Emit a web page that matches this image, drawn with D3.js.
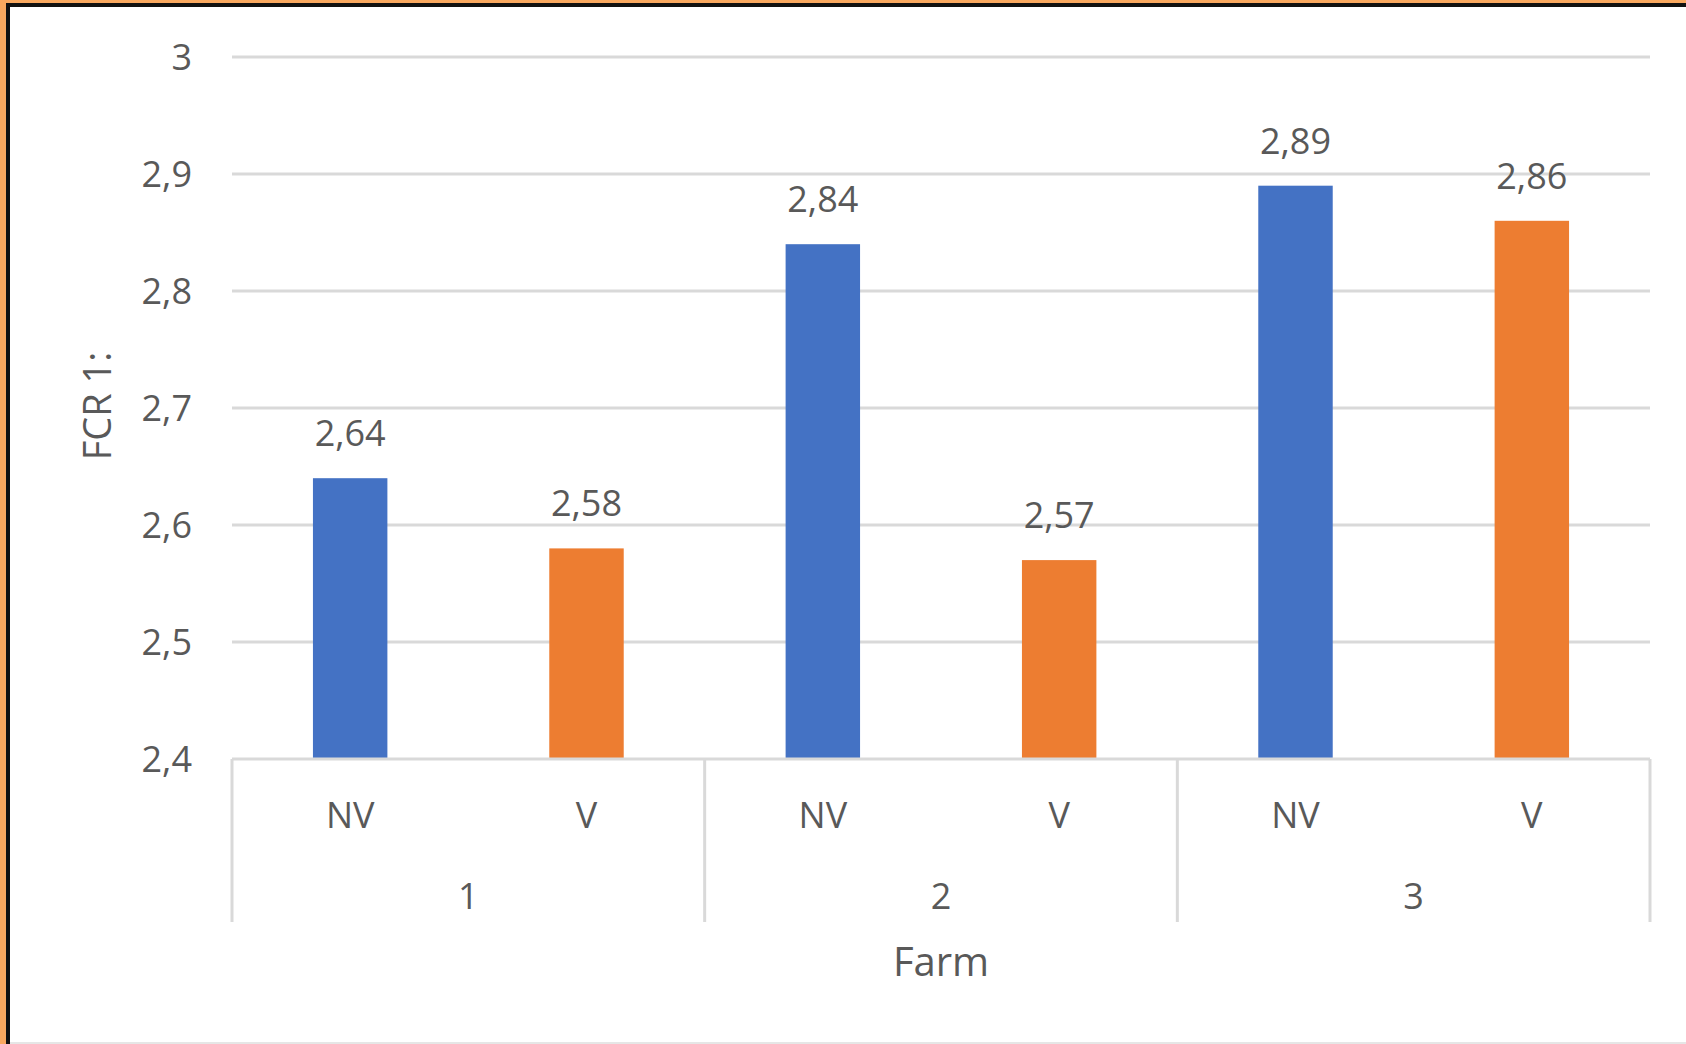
<!DOCTYPE html>
<html>
<head>
<meta charset="utf-8">
<script src="https://cdnjs.cloudflare.com/ajax/libs/d3/7.8.5/d3.min.js"></script>
<style>
  body { margin: 0; background: #fff; }
  text { font-family: "Open Sans", sans-serif; fill: #595959; }
</style>
</head>
<body>
<div id="chart"></div>
<script>
// Data
var farms = ["1", "2", "3"];
var groups = ["NV", "V"];
var nvValues = [2.64, 2.84, 2.89];
var vValues = [2.58, 2.57, 2.86];
var yTicks = [2.4, 2.5, 2.6, 2.7, 2.8, 2.9, 3];

var width = 1686;
var height = 1044;
var m = { left: 232, right: 1650, top: 57, bottom: 759 };

var colors = { NV: "#4472c4", V: "#ed7d31" };
var fmt = function(v) { return String(v).replace(".", ","); };

var rows = [];
farms.forEach(function(f, i) {
  rows.push({ farm: f, group: "NV", value: nvValues[i] });
  rows.push({ farm: f, group: "V", value: vValues[i] });
});

var svg = d3.select("#chart").append("svg")
    .attr("width", width)
    .attr("height", height);

// frame
svg.append("rect").attr("x", 0).attr("y", 0).attr("width", width).attr("height", height).attr("fill", "#fff");
svg.append("rect").attr("x", 0).attr("y", 0).attr("width", width).attr("height", 3).attr("fill", "#f9a85f");
svg.append("rect").attr("x", 0).attr("y", 0).attr("width", 6).attr("height", height).attr("fill", "#f9a85f");
svg.append("rect").attr("x", 6).attr("y", 3).attr("width", width - 6).attr("height", 4).attr("fill", "#111");
svg.append("rect").attr("x", 6).attr("y", 3).attr("width", 4).attr("height", height - 3).attr("fill", "#111");
svg.append("rect").attr("x", 10).attr("y", height - 2).attr("width", width - 10).attr("height", 2).attr("fill", "#e6e6e6");

var y = d3.scaleLinear()
    .domain([2.4, 3])
    .range([m.bottom, m.top]);

var x0 = d3.scaleBand()
    .domain(farms)
    .range([m.left, m.right]);

var x1 = d3.scaleBand()
    .domain(groups)
    .range([0, x0.bandwidth()])
    .paddingInner(0.685)
    .paddingOuter(0.3425);

// gridlines
svg.append("g").selectAll("line")
    .data(yTicks.slice(1))
  .enter().append("line")
    .attr("x1", m.left)
    .attr("x2", m.right)
    .attr("y1", function(d) { return y(d); })
    .attr("y2", function(d) { return y(d); })
    .attr("stroke", "#d9d9d9")
    .attr("stroke-width", 3);

// y tick labels
svg.append("g").selectAll("text")
    .data(yTicks)
  .enter().append("text")
    .attr("x", 192)
    .attr("y", function(d) { return y(d); })
    .attr("dy", "0.36em")
    .attr("text-anchor", "end")
    .style("font-size", "36px")
    .text(fmt);

// bars
svg.append("g").selectAll("rect")
    .data(rows)
  .enter().append("rect")
    .attr("x", function(d) { return x0(d.farm) + x1(d.group); })
    .attr("y", function(d) { return y(d.value); })
    .attr("width", x1.bandwidth())
    .attr("height", function(d) { return y(2.4) - y(d.value); })
    .attr("fill", function(d) { return colors[d.group]; });

// value labels
svg.append("g").selectAll("text")
    .data(rows)
  .enter().append("text")
    .attr("x", function(d) { return x0(d.farm) + x1(d.group) + x1.bandwidth() / 2; })
    .attr("y", function(d) { return y(d.value) - 32; })
    .attr("text-anchor", "middle")
    .style("font-size", "36px")
    .text(function(d) { return fmt(d.value); });

// category axis
var axis = svg.append("g").attr("stroke", "#d9d9d9").attr("stroke-width", 3);
axis.append("line")
    .attr("x1", m.left).attr("x2", m.right)
    .attr("y1", m.bottom).attr("y2", m.bottom);
axis.selectAll(".sep")
    .data(farms.map(function(f) { return x0(f); }).concat([m.right]))
  .enter().append("line")
    .attr("x1", function(d) { return d; })
    .attr("x2", function(d) { return d; })
    .attr("y1", m.bottom)
    .attr("y2", 922);

svg.append("g").selectAll("text")
    .data(rows)
  .enter().append("text")
    .attr("x", function(d) { return x0(d.farm) + x1(d.group) + x1.bandwidth() / 2; })
    .attr("y", 815)
    .attr("dy", "0.36em")
    .attr("text-anchor", "middle")
    .style("font-size", "36px")
    .text(function(d) { return d.group; });

svg.append("g").selectAll("text")
    .data(farms)
  .enter().append("text")
    .attr("x", function(d) { return x0(d) + x0.bandwidth() / 2; })
    .attr("y", 896)
    .attr("dy", "0.36em")
    .attr("text-anchor", "middle")
    .style("font-size", "36px")
    .text(function(d) { return d; });

// axis titles
svg.append("text")
    .attr("x", (m.left + m.right) / 2)
    .attr("y", 962)
    .attr("dy", "0.36em")
    .attr("text-anchor", "middle")
    .style("font-size", "40px")
    .text("Farm");

svg.append("text")
    .attr("transform", "translate(97,406) rotate(-90)")
    .attr("dy", "0.36em")
    .attr("text-anchor", "middle")
    .style("font-size", "38px")
    .text("FCR 1:");
</script>
</body>
</html>
